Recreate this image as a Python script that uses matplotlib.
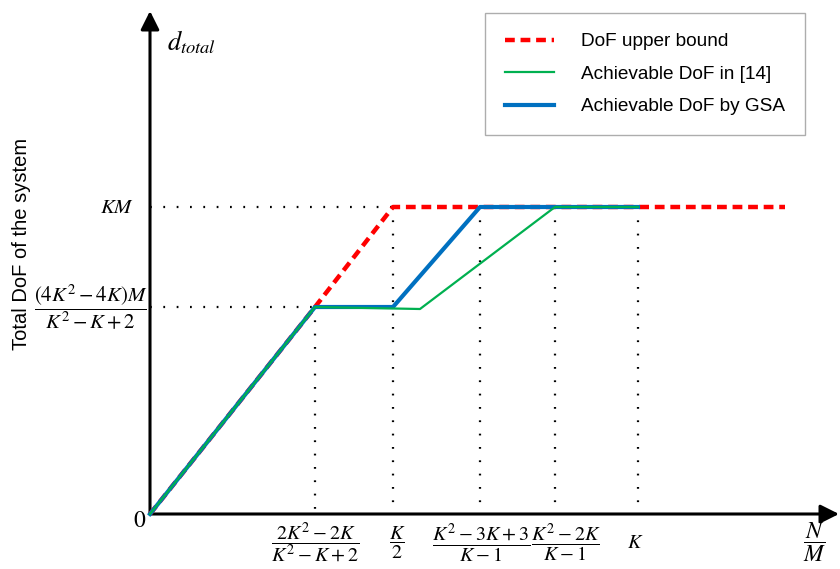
import matplotlib.pyplot as plt

# chart values (x: N/M axis, y: total DoF), in plot units
bound_x = [0, 165, 243, 635]
bound_y = [0, 207, 307, 307]
ref14_x = [0, 165, 270, 405, 488]
ref14_y = [0, 207, 205, 307, 307]
gsa_x = [0, 165, 243, 330, 488]
gsa_y = [0, 207, 207, 307, 307]

x_ticks = [165, 243, 330, 405, 488]
x_label_pos = [165, 247, 331, 416, 485]
x_labels = [r'$\dfrac{2K^2-2K}{K^2-K+2}$', r'$\dfrac{K}{2}$',
            r'$\dfrac{K^2-3K+3}{K-1}$', r'$\dfrac{K^2-2K}{K-1}$', r'$K$']
y_ticks = [207, 307]
y_labels = [r'$\dfrac{(4K^2-4K)M}{K^2-K+2}$', r'$KM$']

plt.rcParams['font.family'] = ['Liberation Sans', 'DejaVu Sans']
plt.rcParams['mathtext.fontset'] = 'stix'

fig = plt.figure(figsize=(8.4, 5.69), dpi=100)
ax = fig.add_axes([0, 0, 1, 1])
ax.set_xlim(-150, 690)
ax.set_ylim(-55, 514)
ax.axis('off')

# axes arrows
arr = dict(arrowstyle='-|>', lw=2.2, color='k', mutation_scale=28, shrinkA=0, shrinkB=0)
ax.annotate('', xy=(689, 0), xytext=(0, 0), arrowprops=arr)
ax.annotate('', xy=(0, 503), xytext=(0, 0), arrowprops=arr)

# guide dots
dots = dict(color='k', lw=1.6, linestyle=(0, (0.8, 5.2)))
ax.plot([0, x_ticks[0]], [y_ticks[0]] * 2, **dots)
ax.plot([0, x_ticks[1]], [y_ticks[1]] * 2, **dots)
ax.plot([x_ticks[0]] * 2, [y_ticks[0], 0], **dots)
for xv in x_ticks[1:]:
    ax.plot([xv, xv], [y_ticks[1], 0], **dots)

ax.plot(bound_x, bound_y, color='#ff0000', lw=3.2, linestyle=(0, (2.2, 1.3)),
        label='DoF upper bound', zorder=3)
ax.plot(gsa_x, gsa_y, color='#0070c0', lw=3, label='Achievable DoF by GSA', zorder=4)
ax.plot(ref14_x, ref14_y, color='#00b050', lw=1.6, label='Achievable DoF in [14]', zorder=5)

h, l = ax.get_legend_handles_labels()
leg = ax.legend([h[0], h[2], h[1]], [l[0], l[2], l[1]], loc='upper right',
                bbox_to_anchor=(0.958, 0.977), fontsize=13.7, frameon=True, fancybox=False,
                edgecolor='#999999', handlelength=2.6, handletextpad=1.4,
                labelspacing=0.8, borderpad=1.05, borderaxespad=0)
leg.get_frame().set_linewidth(1.0)

# labels
for xv, s in zip(x_label_pos, x_labels):
    ax.text(xv, -29, s, ha='center', va='center', fontsize=14.5)
ax.text(-59, y_ticks[0], y_labels[0], ha='center', va='center', fontsize=15)
ax.text(-33, y_ticks[1], y_labels[1], ha='center', va='center', fontsize=15)
ax.text(665, -28, r'$\dfrac{N}{M}$', ha='center', va='center', fontsize=17)
ax.text(-10, -7, r'$0$', ha='center', va='center', fontsize=17)
ax.text(17, 472, r'$d_{total}$', ha='left', va='center', fontsize=19)
ax.text(-128, 270, 'Total DoF of the system', rotation=90, ha='center', va='center',
        fontsize=14.5)

fig.savefig('out.png', dpi=100)
